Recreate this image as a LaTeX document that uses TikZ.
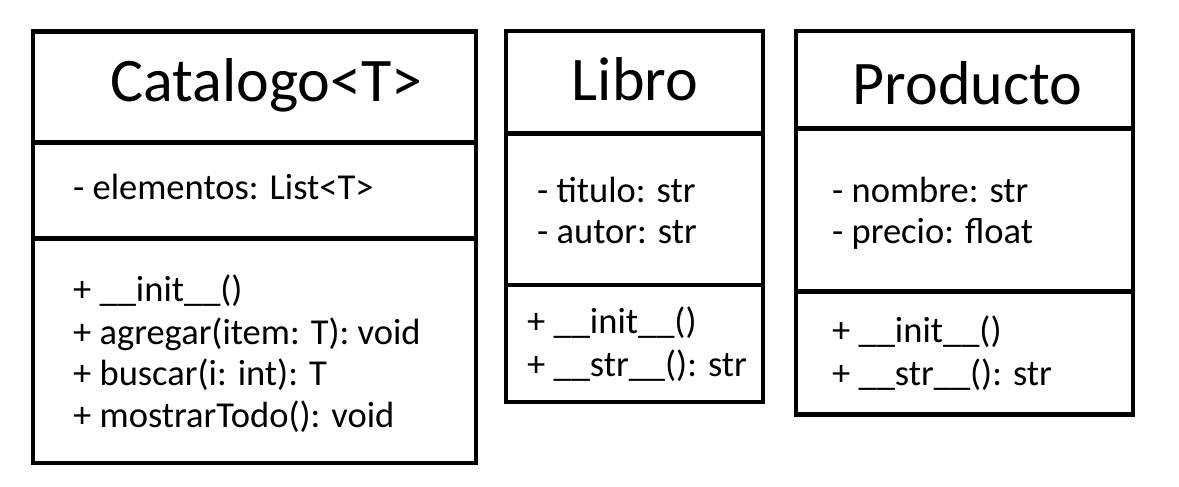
\documentclass[tikz,border=0pt]{standalone}
\usepackage{fontspec}
\setmainfont{Carlito}
\begin{document}
\begin{tikzpicture}[x=1pt,y=-1pt,
  frame/.style={draw=black,line width=4.8pt},
  divider/.style={draw=black,line width=4.3pt},
  titletext/.style={anchor=base,inner sep=0pt,font=\fontsize{62}{70}\selectfont},
  bodytext/.style={anchor=base west,inner sep=0pt,font=\fontsize{36.5}{42}\selectfont}]
\useasboundingbox (0,0) rectangle (1179,487);
% Catalogo
\draw[frame] (33,31.5) rectangle (476,463);
\draw[divider] (33,142.5) -- (476,142.5);
\draw[divider] (33,238.5) -- (476,238.5);
\node[titletext] (cattitle) at (266.5,102) {Catalogo<T>};
\node[bodytext] (catattr) at (73,199) {- elementos: List<T>};
\node[bodytext] (catm1) at (73,301) {+ \_\_init\_\_()};
\node[bodytext] (catm2) at (73,344) {+ agregar(item: T): void};
\node[bodytext] (catm3) at (73,385) {+ buscar(i: int): T};
\node[bodytext] (catm4) at (73,427) {+ mostrarTodo(): void};
% Libro
\draw[frame] (506,31) rectangle (763,402);
\draw[divider] (506,133.5) -- (763,133.5);
\draw[divider] (506,285) -- (763,285);
\node[titletext] (libtitle) at (635,101) {Libro};
\node[bodytext] (liba1) at (537,202) {- titulo: str};
\node[bodytext] (liba2) at (537,243) {- autor: str};
\node[bodytext] (libm1) at (527,333) {+ \_\_init\_\_()};
\node[bodytext] (libm2) at (527,376) {+ \_\_str\_\_(): str};
% Producto
\draw[frame] (796,31) rectangle (1133,414.5);
\draw[divider] (796,128.5) -- (1133,128.5);
\draw[divider] (796,291.5) -- (1133,291.5);
\node[titletext] (prodtitle) at (967.5,104) {Producto};
\node[bodytext] (proda1) at (832,202) {- nombre: str};
\node[bodytext] (proda2) at (832,243) {- precio: float};
\node[bodytext] (prodm1) at (832,342) {+ \_\_init\_\_()};
\node[bodytext] (prodm2) at (832,385) {+ \_\_str\_\_(): str};
\end{tikzpicture}
\end{document}
